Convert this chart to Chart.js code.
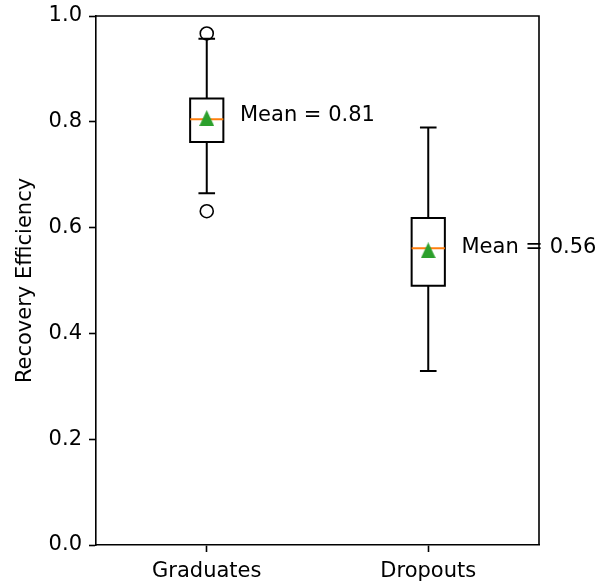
<!DOCTYPE html>
<html>
<head>
<meta charset="utf-8">
<script src="https://cdn.jsdelivr.net/npm/chart.js@4.4.0/dist/chart.umd.min.js"></script>
<style>
  html, body { margin: 0; padding: 0; background: #fff; }
  #wrap { width: 612px; height: 585px; }
</style>
</head>
<body>
<div id="wrap"><canvas id="c" width="612" height="585"></canvas></div>
<script>
// ---- data ----
const categories = ['Graduates', 'Dropouts'];
const whiskLow  = [0.665, 0.329];
const q1        = [0.762, 0.490];
const medians   = [0.805, 0.561];
const q3        = [0.844, 0.618];
const whiskHigh = [0.957, 0.789];
const means     = [0.807, 0.557];
const meanText  = ['Mean = 0.81', 'Mean = 0.56'];
const outliers  = [[0.967, 0.631], []];
const yTicks    = [0, 0.2, 0.4, 0.6, 0.8, 1.0];

const FONT = 'DejaVu Sans';
const FS = 21;
const BOX_HALF = 0.075;   // in x units
const CAP_HALF = 0.0375;

const outlierPts = [];
outliers.forEach((arr, i) => arr.forEach(v => outlierPts.push({ x: i + 1, y: v })));
const meanPts = means.map((v, i) => ({ x: i + 1, y: v }));

// matplotlib style '^' marker (centred box, not centroid)
const tri = document.createElement('canvas');
tri.width = 15; tri.height = 16;
(() => {
  const t = tri.getContext('2d');
  t.fillStyle = '#2ca02c';
  t.beginPath();
  t.moveTo(7.5, 0); t.lineTo(15, 16); t.lineTo(0, 16);
  t.closePath();
  t.fill();
})();

// boxes, whiskers, medians drawn through the scales
const boxPlugin = {
  id: 'boxes',
  beforeDatasetsDraw(chart) {
    const { ctx, scales: { x, y } } = chart;
    ctx.save();
    ctx.lineWidth = 2;
    ctx.strokeStyle = '#000';
    categories.forEach((c, i) => {
      const p = i + 1;
      const xl = x.getPixelForValue(p - BOX_HALF), xr = x.getPixelForValue(p + BOX_HALF);
      const xc = x.getPixelForValue(p);
      const cl = x.getPixelForValue(p - CAP_HALF), cr = x.getPixelForValue(p + CAP_HALF);
      const yq1 = y.getPixelForValue(q1[i]), yq3 = y.getPixelForValue(q3[i]);
      const ylo = y.getPixelForValue(whiskLow[i]), yhi = y.getPixelForValue(whiskHigh[i]);
      ctx.beginPath();
      ctx.rect(xl, yq3, xr - xl, yq1 - yq3);
      ctx.moveTo(xc, yq1); ctx.lineTo(xc, ylo);
      ctx.moveTo(xc, yq3); ctx.lineTo(xc, yhi);
      ctx.moveTo(cl, ylo); ctx.lineTo(cr, ylo);
      ctx.moveTo(cl, yhi); ctx.lineTo(cr, yhi);
      ctx.stroke();
      const ym = y.getPixelForValue(medians[i]);
      ctx.beginPath();
      ctx.strokeStyle = '#ff7f0e';
      ctx.moveTo(xl, ym); ctx.lineTo(xr, ym);
      ctx.stroke();
      ctx.strokeStyle = '#000';
    });
    ctx.restore();
  },
  afterDatasetsDraw(chart) {
    const { ctx, chartArea: a, scales: { x, y } } = chart;
    ctx.save();
    // top and right spines
    ctx.strokeStyle = '#000';
    ctx.lineWidth = 1.6;
    ctx.beginPath();
    ctx.moveTo(a.left, a.top); ctx.lineTo(a.right, a.top); ctx.lineTo(a.right, a.bottom);
    ctx.stroke();
    // mean annotations
    ctx.fillStyle = '#000';
    ctx.font = FS + 'px "' + FONT + '"';
    ctx.textBaseline = 'middle';
    ctx.textAlign = 'left';
    meanText.forEach((t, i) => {
      ctx.fillText(t, x.getPixelForValue(i + 1 + 0.15), y.getPixelForValue(means[i]) - 3);
    });
    ctx.restore();
  }
};

new Chart(document.getElementById('c'), {
  type: 'scatter',
  data: {
    datasets: [
      {
        label: 'outliers',
        data: outlierPts,
        pointStyle: 'circle',
        pointRadius: 6.5,
        pointBorderWidth: 1.6,
        pointBorderColor: '#000',
        pointBackgroundColor: 'rgba(0,0,0,0)'
      },
      {
        label: 'means',
        data: meanPts,
        pointStyle: tri,
        pointRadius: 8
      }
    ]
  },
  options: {
    responsive: false,
    animation: false,
    events: [],
    layout: { padding: { top: 16, right: 73, left: 0, bottom: 0 } },
    plugins: { legend: { display: false }, tooltip: { enabled: false } },
    scales: {
      x: {
        type: 'linear',
        min: 0.5,
        max: 2.5,
        afterBuildTicks: s => { s.ticks = categories.map((c, i) => ({ value: i + 1 })); },
        afterFit: s => { s.height = 40; s.paddingLeft = 0; s.paddingRight = 0; },
        ticks: {
          callback: v => categories[v - 1],
          color: '#000',
          padding: 7,
          font: { family: FONT, size: FS },
          maxRotation: 0
        },
        grid: { drawOnChartArea: false, tickLength: 7, tickColor: '#000', tickWidth: 1.6 },
        border: { display: true, color: '#000', width: 1.6 }
      },
      y: {
        min: 0,
        max: 1,
        afterBuildTicks: s => { s.ticks = yTicks.map(v => ({ value: v })); },
        afterFit: s => { s.width = 96; s.paddingTop = 0; s.paddingBottom = 0; },
        ticks: {
          callback: v => v.toFixed(1),
          color: '#000',
          padding: 7,
          font: { family: FONT, size: FS }
        },
        title: {
          display: true,
          text: 'Recovery Efficiency',
          color: '#000',
          font: { family: FONT, size: FS },
          padding: { top: 13, bottom: 0 }
        },
        grid: { drawOnChartArea: false, tickLength: 7, tickColor: '#000', tickWidth: 1.6 },
        border: { display: true, color: '#000', width: 1.6 }
      }
    }
  },
  plugins: [boxPlugin]
});
</script>
</body>
</html>
